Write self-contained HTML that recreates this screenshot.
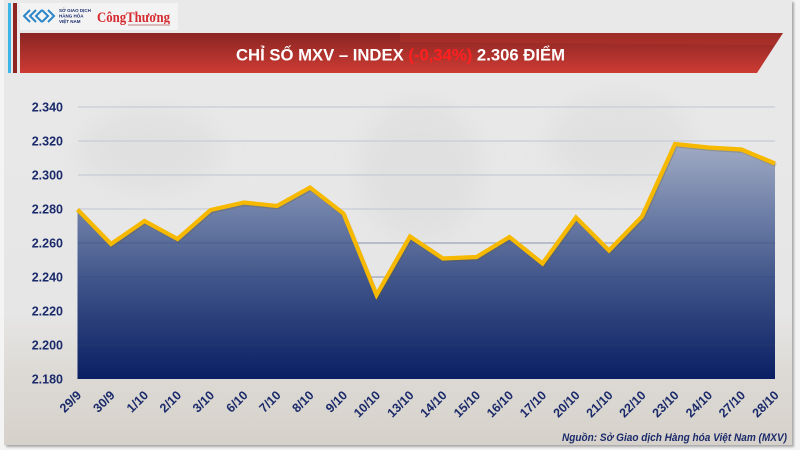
<!DOCTYPE html>
<html><head><meta charset="utf-8"><style>
html,body{margin:0;padding:0;width:800px;height:450px;overflow:hidden;background:#f4f4f4;}
svg{display:block;}
</style></head><body>
<svg width="800" height="450" viewBox="0 0 800 450" xmlns="http://www.w3.org/2000/svg">
<defs>
<linearGradient id="bg" x1="0" y1="0" x2="0" y2="1">
<stop offset="0" stop-color="#e9e9e9"/>
<stop offset="0.7" stop-color="#e6e6e6"/>
<stop offset="0.85" stop-color="#dcd9d4"/>
<stop offset="1" stop-color="#d6d1ca"/>
</linearGradient>
<linearGradient id="red" x1="0" y1="0" x2="0" y2="1">
<stop offset="0" stop-color="#8a2522"/>
<stop offset="1" stop-color="#cd3b34"/>
</linearGradient>
<linearGradient id="fill" gradientUnits="userSpaceOnUse" x1="0" y1="140" x2="0" y2="379">
<stop offset="0" stop-color="#a3adc5"/>
<stop offset="0.3" stop-color="#6f80a8"/>
<stop offset="0.6" stop-color="#3e5388"/>
<stop offset="1" stop-color="#0a1f63"/>
</linearGradient>
<filter id="sh" x="-5%" y="-5%" width="110%" height="110%"><feGaussianBlur stdDeviation="1"/></filter>
<filter id="bl" x="-20%" y="-20%" width="140%" height="140%"><feGaussianBlur stdDeviation="12"/></filter>
</defs>
<!-- panel -->
<rect x="6" y="2" width="788" height="445" fill="#a8a8a8" filter="url(#sh)"/>
<rect x="4" y="0" width="788" height="445" fill="url(#bg)"/>
<!-- faint map blobs -->
<g fill="#dcdcdc" opacity="0.6" filter="url(#bl)">
<ellipse cx="150" cy="150" rx="70" ry="40"/>
<ellipse cx="420" cy="170" rx="60" ry="70"/>
<ellipse cx="620" cy="140" rx="70" ry="45"/>
</g>
<!-- left bars -->
<rect x="8" y="3" width="3" height="70" fill="#3bb6e6"/>
<rect x="13" y="3" width="4" height="70" fill="#8e2422"/>
<!-- logo box -->
<rect x="20" y="3" width="158" height="27" fill="#f3f3f3"/>
<g fill="none" stroke="#2a86c8" stroke-width="2">
<path d="M30 10 L24 16 L30 22"/><path d="M36 10 L30 16 L36 22"/><path d="M42 10 L36 16 L42 22"/><path d="M48 10 L54 16 L48 22"/><path d="M42 10 L48 16 L42 22"/>
</g>
<text x="59" y="12" font-family="Liberation Sans, sans-serif" font-size="4.5" font-weight="bold" fill="#1a2d6e">SỞ GIAO DỊCH</text>
<text x="59" y="17.5" font-family="Liberation Sans, sans-serif" font-size="4.5" font-weight="bold" fill="#1a2d6e">HÀNG HÓA</text>
<text x="59" y="23" font-family="Liberation Sans, sans-serif" font-size="4.5" font-weight="bold" fill="#1a2d6e">VIỆT NAM</text>
<text x="97" y="22" font-family="Liberation Serif, serif" font-size="15" font-weight="bold" fill="#d52a2f" textLength="73" lengthAdjust="spacingAndGlyphs">CôngThương</text>
<rect x="128" y="24" width="42" height="2" fill="#d9b9b9"/>
<!-- red title bar -->
<polygon points="20,33 783,33 757,73 20,73" fill="url(#red)"/>
<polygon points="400,33 783,33 775,45 400,42" fill="#c33a31" opacity="0.35"/>
<text x="236" y="60.5" font-family="Liberation Sans, sans-serif" font-size="17" font-weight="bold" fill="#ffffff" textLength="329" lengthAdjust="spacingAndGlyphs">CHỈ SỐ MXV – INDEX <tspan fill="#ff2020">(-0,34%)</tspan> 2.306 ĐIỂM</text>
<!-- gridlines -->
<g stroke="#c7cbd6" stroke-width="1.3">
<line x1="78" y1="107" x2="775" y2="107"/>
<line x1="78" y1="141" x2="775" y2="141"/>
<line x1="78" y1="175" x2="775" y2="175"/>
<line x1="78" y1="209" x2="775" y2="209"/>
<line x1="78" y1="243" x2="775" y2="243"/>
<line x1="78" y1="277" x2="775" y2="277"/>
<line x1="78" y1="311" x2="775" y2="311"/>
<line x1="78" y1="345" x2="775" y2="345"/>
</g>
<!-- area -->
<polygon fill="url(#fill)" points="77.5,379 77.5,209.5 111,244 144.5,221 177.5,239 210.5,210 244,202.5 277,206 310,187.5 343.5,213.5 376.5,295 410,236.5 443,258.5 476.5,257 509.5,237 542.5,263.5 576,217.5 609,250.5 642,216.5 675,144 708.5,147.5 741.5,149.5 775,163.5 775,379"/>
<g stroke="#2c4378" stroke-width="1" opacity="0.35">
<line x1="78" y1="243" x2="775" y2="243"/>
<line x1="78" y1="277" x2="775" y2="277"/>
<line x1="78" y1="311" x2="775" y2="311"/>
<line x1="78" y1="345" x2="775" y2="345"/>
</g>
<!-- line -->
<polyline fill="none" stroke="#6b5a20" stroke-width="4" opacity="0.25" transform="translate(1,1.5)" stroke-linejoin="miter" points="77.5,209.5 111,244 144.5,221 177.5,239 210.5,210 244,202.5 277,206 310,187.5 343.5,213.5 376.5,295 410,236.5 443,258.5 476.5,257 509.5,237 542.5,263.5 576,217.5 609,250.5 642,216.5 675,144 708.5,147.5 741.5,149.5 775,163.5"/>
<polyline fill="none" stroke="#f6b900" stroke-width="4.2" stroke-linejoin="miter" points="77.5,209.5 111,244 144.5,221 177.5,239 210.5,210 244,202.5 277,206 310,187.5 343.5,213.5 376.5,295 410,236.5 443,258.5 476.5,257 509.5,237 542.5,263.5 576,217.5 609,250.5 642,216.5 675,144 708.5,147.5 741.5,149.5 775,163.5"/>
<!-- y labels -->
<g font-family="Liberation Sans, sans-serif" font-size="12.5" font-weight="bold" fill="#1a2a6a" text-anchor="end">
<text x="63" y="111.5">2.340</text>
<text x="63" y="145.5">2.320</text>
<text x="63" y="179.5">2.300</text>
<text x="63" y="213.5">2.280</text>
<text x="63" y="247.5">2.260</text>
<text x="63" y="281.5">2.240</text>
<text x="63" y="315.5">2.220</text>
<text x="63" y="349.5">2.200</text>
<text x="63" y="383.5">2.180</text>
</g>
<!-- x labels -->
<g font-family="Liberation Sans, sans-serif" font-size="12.5" font-weight="bold" fill="#1a2a6a" text-anchor="end">
<text transform="translate(82,396) rotate(-45)">29/9</text>
<text transform="translate(115.5,396) rotate(-45)">30/9</text>
<text transform="translate(149,396) rotate(-45)">1/10</text>
<text transform="translate(182,396) rotate(-45)">2/10</text>
<text transform="translate(215,396) rotate(-45)">3/10</text>
<text transform="translate(248.5,396) rotate(-45)">6/10</text>
<text transform="translate(281.5,396) rotate(-45)">7/10</text>
<text transform="translate(314.5,396) rotate(-45)">8/10</text>
<text transform="translate(348,396) rotate(-45)">9/10</text>
<text transform="translate(381,396) rotate(-45)">10/10</text>
<text transform="translate(414.5,396) rotate(-45)">13/10</text>
<text transform="translate(447.5,396) rotate(-45)">14/10</text>
<text transform="translate(481,396) rotate(-45)">15/10</text>
<text transform="translate(514,396) rotate(-45)">16/10</text>
<text transform="translate(547,396) rotate(-45)">17/10</text>
<text transform="translate(580.5,396) rotate(-45)">20/10</text>
<text transform="translate(613.5,396) rotate(-45)">21/10</text>
<text transform="translate(646.5,396) rotate(-45)">22/10</text>
<text transform="translate(679.5,396) rotate(-45)">23/10</text>
<text transform="translate(713,396) rotate(-45)">24/10</text>
<text transform="translate(746,396) rotate(-45)">27/10</text>
<text transform="translate(779.5,396) rotate(-45)">28/10</text>
</g>
<text x="562" y="441" font-family="Liberation Sans, sans-serif" font-size="11" font-weight="bold" font-style="italic" fill="#1a2a6a" textLength="225" lengthAdjust="spacingAndGlyphs">Nguồn: Sở Giao dịch Hàng hóa Việt Nam (MXV)</text>
</svg>
</body></html>
